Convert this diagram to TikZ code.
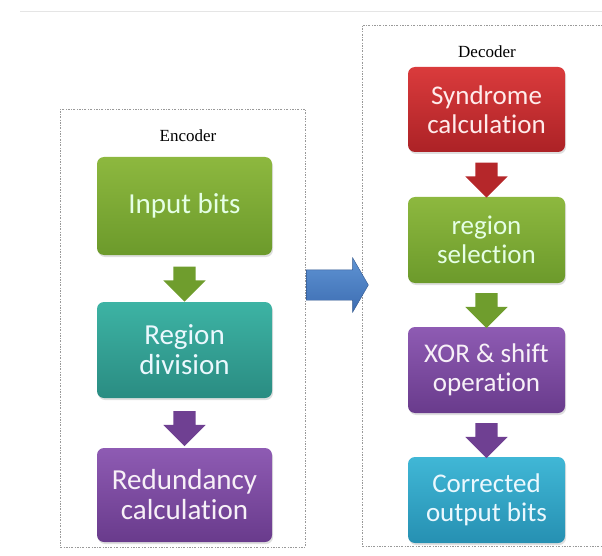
\documentclass[tikz,border=0pt]{standalone}
\usepackage{fontspec}
\setmainfont{Liberation Serif}
\newfontfamily\boxfont{Carlito}[Ligatures=NoCommon]
\usetikzlibrary{positioning,calc}
\usetikzlibrary{shapes.arrows,shadows}

\definecolor{grnT}{HTML}{8DB83F}
\definecolor{grnB}{HTML}{6C9A2B}
\definecolor{tealT}{HTML}{3DB3A4}
\definecolor{tealB}{HTML}{2A8C82}
\definecolor{purT}{HTML}{8E5BB3}
\definecolor{purB}{HTML}{693B8C}
\definecolor{redT}{HTML}{DA3B3C}
\definecolor{redB}{HTML}{AC2226}
\definecolor{cyanT}{HTML}{40B7D6}
\definecolor{cyanB}{HTML}{2690B2}
\definecolor{bluT}{HTML}{5E93D3}
\definecolor{bluB}{HTML}{3D6DB2}

\tikzset{
	panel/.style={draw=gray!80,thin,
		dash pattern=on 2pt off 1.5pt on 0.6pt off 1.5pt,
		inner sep=0pt},
	stage/.style={rounded corners=7pt,inner sep=0pt,align=center,
		font=\boxfont\fontsize{27}{29}\selectfont,
		drop shadow={opacity=0.25,shadow xshift=1pt,shadow yshift=-2pt}},
	bigstage/.style={stage,font=\boxfont\fontsize{29}{30}\selectfont},
	flow/.style={single arrow,rotate=-90,inner xsep=0pt,inner ysep=11pt,
		minimum height=35pt,
		single arrow head extend=10pt,single arrow head indent=0pt}
}

\begin{document}
\begin{tikzpicture}[x=1pt,y=-1pt]
	\useasboundingbox (0,0) rectangle (602,556);
	\draw[gray!20,thin] (20,11) -- (602,11);

	% the two dashed panels
	\node (enc) at (182.5,328) [panel,minimum width=245pt,minimum height=438pt] {};
	\node (dec) at (483,285.5) [panel,minimum width=242pt,minimum height=521pt] {};
	\node (enclbl) at (188,136) {\fontsize{17}{19}\selectfont Encoder};
	\node (declbl) at (487,52) {\fontsize{17}{19}\selectfont Decoder};

	% encoder stages
	\node (in) at (184.5,206) [bigstage,top color=grnT,bottom color=grnB,text=green!10!white,
		minimum width=175pt,minimum height=98pt] {Input bits};
	\node (div) at (184.5,350) [bigstage,top color=tealT,bottom color=tealB,text=cyan!8!white,
		minimum width=175pt,minimum height=96pt] {Region\\division};
	\node (red) at (184.5,495) [bigstage,top color=purT,bottom color=purB,text=violet!6!white,
		minimum width=175pt,minimum height=94pt] {Redundancy\\calculation};

	% decoder stages
	\node (syn) at (486.5,109.5) [stage,top color=redT,bottom color=redB,text=red!8!white,
		minimum width=157pt,minimum height=85pt] {Syndrome\\calculation};
	\node (sel) at (486.5,240) [stage,top color=grnT,bottom color=grnB,text=green!10!white,
		minimum width=157pt,minimum height=86pt] {region\\selection};
	\node (xor) at (486.5,370) [stage,top color=purT,bottom color=purB,text=violet!6!white,
		minimum width=157pt,minimum height=86pt] {XOR \& shift\\operation};
	\node (cor) at (486.5,500) [stage,top color=cyanT,bottom color=cyanB,text=cyan!8!white,
		minimum width=157pt,minimum height=86pt] {Corrected\\output bits};

	% block arrows between stages
	\node (a1) at ($(in.south)!0.5!(div.north)$) [flow,fill=grnB!90!grnT] {};
	\node (a2) at ($(div.south)!0.5!(red.north)$) [flow,fill=purB!85!purT] {};
	\node (a3) at ($(syn.south)!0.5!(sel.north)$) [flow,fill=redB!80!redT] {};
	\node (a4) at ($(sel.south)!0.5!(xor.north)$) [flow,fill=grnB!90!grnT] {};
	\node (a5) at ($(xor.south)!0.5!(cor.north)$) [flow,fill=purB!85!purT] {};

	% encoder to decoder
	\node (link) at (333,285) [single arrow,inner xsep=0pt,inner ysep=15pt,
		minimum height=62pt,
		single arrow head extend=12pt,single arrow tip angle=120,
		top color=bluT,bottom color=bluB,draw=bluB!80!black,thin] {};
\end{tikzpicture}
\end{document}
